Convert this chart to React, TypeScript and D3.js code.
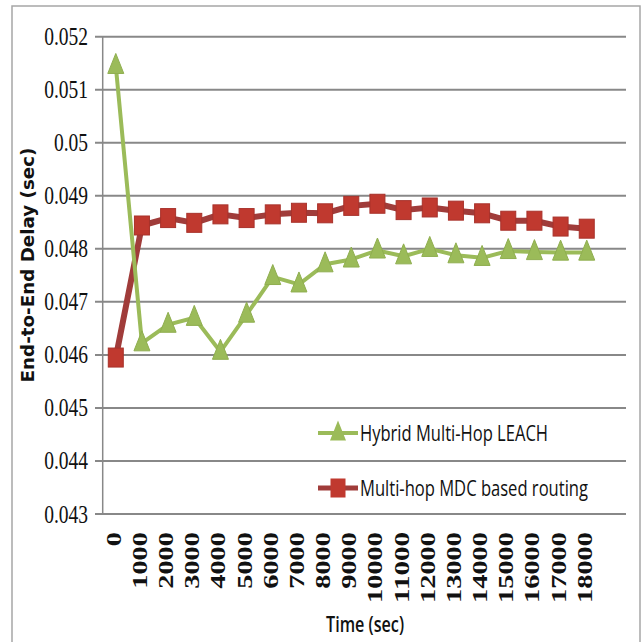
import React from "react";
import * as d3 from "d3";

const categories = ["0","1000","2000","3000","4000","5000","6000","7000","8000","9000","10000","11000","12000","13000","14000","15000","16000","17000","18000"];
const hybridLeach = [0.05145,0.04622,0.04657,0.04670,0.04606,0.04676,0.04747,0.04733,0.04771,0.04780,0.04797,0.04786,0.04800,0.04788,0.04783,0.04796,0.04794,0.04793,0.04793];
const mdcRouting = [0.04595,0.04844,0.04858,0.04849,0.04865,0.04858,0.04865,0.04868,0.04867,0.04881,0.04885,0.04873,0.04878,0.04872,0.04867,0.04853,0.04853,0.04842,0.04838];
const yTicks = [0.043,0.044,0.045,0.046,0.047,0.048,0.049,0.05,0.051,0.052];
const seriesNames = ["Hybrid Multi-Hop LEACH", "Multi-hop MDC based routing"];

export default function App() {
  const left = 102.7, right = 626, top = 36.7, bottom = 514;
  const x = d3.scaleBand<string>().domain([...categories, "__blank"]).range([left, right]).padding(0);
  const y = d3.scaleLinear().domain([0.043, 0.052]).range([bottom, top]);
  const cx = (c: string) => (x(c) ?? 0) + x.bandwidth() / 2;
  const line = d3.line<number>().x((_, i) => cx(categories[i])).y((d) => y(d));
  const green = "#9bbb59";
  const redLine = "#a03c3a";
  const redFill = "#c0392f";
  const tri = (px: number, py: number, w = 16, h = 20) =>
    `M${px},${py - h * 0.62}L${px + w / 2},${py + h * 0.38}L${px - w / 2},${py + h * 0.38}Z`;
  const legendFont = "'Liberation Sans Narrow', 'Open Sans', sans-serif";

  return (
    <svg width={642} height={642} style={{ position: "absolute", left: 0, top: 0, background: "#fff" }}>
      <rect x={12} y={6} width={628} height={660} fill="#fff" stroke="#a6a6a6" strokeWidth={1.5} />
      {yTicks.map((t) => (
        <g key={t}>
          <line x1={95} x2={right} y1={y(t)} y2={y(t)} stroke="#888" strokeWidth={2} />
          <text transform={`translate(88,${y(t) + 8.5}) scale(0.78,1)`} textAnchor="end"
            fontFamily="'Liberation Serif', 'Times New Roman', serif" fontSize={25} fill="#111">{String(t)}</text>
        </g>
      ))}
      <line x1={left} x2={left} y1={top} y2={bottom} stroke="#888" strokeWidth={1.5} />
      {categories.map((c) => (
        <text key={c} transform={`translate(${cx(c) + 5},532) rotate(-90)`} textAnchor="end"
          fontFamily="'Liberation Serif', serif" fontWeight="bold" fontSize={20} fill="#111"
          textLength={c.length * 14.2} lengthAdjust="spacingAndGlyphs">{c}</text>
      ))}
      <path d={line(mdcRouting) ?? ""} fill="none" stroke={redLine} strokeWidth={6} strokeLinejoin="round" />
      <path d={line(hybridLeach) ?? ""} fill="none" stroke={green} strokeWidth={4} strokeLinejoin="round" />
      {mdcRouting.map((v, i) => (
        <rect key={i} x={cx(categories[i]) - 7.5} y={y(v) - 9.5} width={15} height={19} fill={redFill} stroke="#a8322b" strokeWidth={1} />
      ))}
      {hybridLeach.map((v, i) => (
        <path key={i} d={tri(cx(categories[i]), y(v))} fill={green} stroke="#8fae4f" strokeWidth={1} />
      ))}
      {/* legend */}
      <g>
        <line x1={318} x2={358} y1={433} y2={433} stroke={green} strokeWidth={4} />
        <path d={tri(338, 433)} fill={green} />
        <text transform="translate(360,441) scale(1,1.2)" fontFamily={legendFont} fontSize={18.5} fill="#111"
          textLength={188} lengthAdjust="spacingAndGlyphs">{seriesNames[0]}</text>
        <line x1={318} x2={358} y1={488} y2={488} stroke={redLine} strokeWidth={5} />
        <rect x={330.5} y={478.5} width={15} height={19} fill={redFill} />
        <text transform="translate(360,496) scale(1,1.2)" fontFamily={legendFont} fontSize={18.5} fill="#111"
          textLength={228} lengthAdjust="spacingAndGlyphs">{seriesNames[1]}</text>
      </g>
      <text x={365} y={632} textAnchor="middle" fontFamily={legendFont} fontWeight={600} fontSize={22}
        fill="#111" textLength={78} lengthAdjust="spacingAndGlyphs">Time (sec)</text>
      <text transform="translate(34,265) rotate(-90)" textAnchor="middle" fontFamily="'DejaVu Sans', sans-serif"
        fontWeight="bold" fontSize={17} fill="#111" textLength={235} lengthAdjust="spacingAndGlyphs">End-to-End Delay (sec)</text>
    </svg>
  );
}
